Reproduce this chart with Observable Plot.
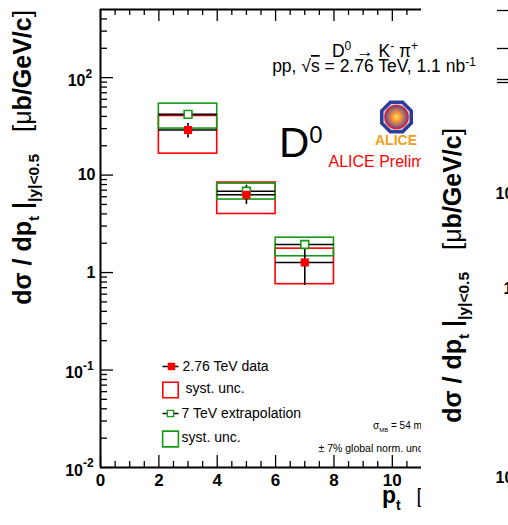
<!DOCTYPE html>
<html><head><meta charset="utf-8">
<script src="https://cdn.jsdelivr.net/npm/d3@7"></script>
<script src="https://cdn.jsdelivr.net/npm/@observablehq/plot@0.6"></script>
<style>
html,body{margin:0;padding:0;background:#fff;}
#wrap{position:relative;width:508px;height:525px;overflow:hidden;background:#fff;}
#wrap > svg{position:absolute;top:0;}
</style></head><body><div id="wrap"></div>
<script>
// ---- data ----
const ptLow    = [2, 4, 6];
const ptHigh   = [4, 6, 8];
const ptCenter = [3, 5, 7];
// 2.76 TeV data, stat and syst
const data276   = [29.0, 6.28, 1.27];
const stat276Lo = [24.0, 4.98, 0.74];
const stat276Hi = [33.8, 7.86, 1.80];
const syst276Lo = [16.6, 3.99, 0.76];
const syst276Hi = [40.4, 8.38, 1.76];
// 7 TeV extrapolation, stat and syst
const data7   = [42.0, 6.82, 1.94];
const stat7Lo = [39.5, 6.45, 1.85];
const stat7Hi = [44.5, 7.20, 2.03];
const syst7Lo = [30.0, 5.61, 1.47];
const syst7Hi = [54.1, 8.18, 2.28];
// axes
const xTicks = [0, 2, 4, 6, 8, 10];
const yTicks = [0.01, 0.1, 1, 10, 100];
const yTickBase = ["10", "10", "1", "10", "10"];
const yTickExp  = ["-2", "-1", "", "", "2"];
const legendLabels = ["2.76 TeV data", "syst. unc.", "7 TeV extrapolation", "syst. unc."];
// partially visible neighbouring panel
const rightLabels = ["10", "1", "10"];

const FONT = '"Liberation Sans", Arial, Helvetica, sans-serif';
const RED = "#ff0000", GREEN = "#169a16";
const W = 421, H = 525, ML = 100, MT = 9, MB = 58;
const FW = W - ML, FH = H - MT - MB;

const bins = ptCenter.map((x, i) => ({
  x, lo: ptLow[i], hi: ptHigh[i],
  a: data276[i], aSl: stat276Lo[i], aSh: stat276Hi[i], aYl: syst276Lo[i], aYh: syst276Hi[i],
  b: data7[i], bSl: stat7Lo[i], bSh: stat7Hi[i], bYl: syst7Lo[i], bYh: syst7Hi[i]
}));
const xMinor = d3.range(0.5, 11, 0.5).filter(v => v % 2 !== 0);
const yMinor = [];
for (let k = -2; k <= 2; k++) for (let m = 2; m <= 9; m++) { const v = m * 10 ** k; if (v < 500) yMinor.push(v); }
const yLab = yTicks.map((v, i) => ({v, base: yTickBase[i], exp: yTickExp[i]}));

const hline = {draw(ctx, size) { const r = Math.sqrt(size / Math.PI); ctx.moveTo(-r, 0); ctx.lineTo(r, 0); }};
const lg = (dx, dy, o) => ({frameAnchor: "top-left", dx: dx - ML, dy: dy - MT, ...o});

const main = Plot.plot({
  width: W, height: H,
  marginLeft: ML, marginRight: 0, marginTop: MT, marginBottom: MB,
  x: {domain: [0, 11], axis: null},
  y: {type: "log", domain: [0.01, 500], axis: null},
  style: {fontFamily: FONT, background: "white", color: "black"},
  marks: [
    // systematic boxes
    Plot.rect(bins, {x1: "lo", x2: "hi", y1: "aYl", y2: "aYh", fill: "none", stroke: RED, strokeWidth: 1.6}),
    Plot.rect(bins, {x1: "lo", x2: "hi", y1: "bYl", y2: "bYh", fill: "none", stroke: GREEN, strokeWidth: 1.6}),
    // x error bars and stat error bars
    Plot.ruleY(bins, {y: "a", x1: "lo", x2: "hi", stroke: "black", strokeWidth: 1.6}),
    Plot.ruleY(bins, {y: "b", x1: "lo", x2: "hi", stroke: "black", strokeWidth: 1.6}),
    Plot.ruleX(bins, {x: "x", y1: "aSl", y2: "aSh", stroke: "black", strokeWidth: 1.6}),
    Plot.ruleX(bins, {x: "x", y1: "bSl", y2: "bSh", stroke: "black", strokeWidth: 1.6}),
    // markers
    Plot.dot(bins, {x: "x", y: "b", symbol: "square", r: 4.4, fill: "white", stroke: GREEN, strokeWidth: 1.6}),
    Plot.dot(bins, {x: "x", y: "a", symbol: "square", r: 4.6, fill: RED, stroke: "none"}),
    // frame (left, bottom, top)
    Plot.ruleX([0], {stroke: "black", strokeWidth: 2}),
    Plot.ruleY([0.01], {stroke: "black", strokeWidth: 2}),
    Plot.ruleY([500], {stroke: "black", strokeWidth: 2}),
    // ticks (inside the frame, ROOT style)
    Plot.tickX(xTicks, {x: d => d, insetTop: FH - 12, stroke: "black", strokeWidth: 1.3}),
    Plot.tickX(xTicks, {x: d => d, insetBottom: FH - 12, stroke: "black", strokeWidth: 1.3}),
    Plot.tickX(xMinor, {x: d => d, insetTop: FH - 6, stroke: "black", strokeWidth: 1.3}),
    Plot.tickX(xMinor, {x: d => d, insetBottom: FH - 6, stroke: "black", strokeWidth: 1.3}),
    Plot.tickY(yTicks, {y: d => d, insetRight: FW - 13, stroke: "black", strokeWidth: 1.3}),
    Plot.tickY(yMinor, {y: d => d, insetRight: FW - 7, stroke: "black", strokeWidth: 1.3}),
    // tick labels
    Plot.text(xTicks, {x: d => d, frameAnchor: "bottom", text: d => String(d), dy: 13.5, lineAnchor: "middle",
      fontWeight: "bold", fontSize: 17, fill: "black"}),
    Plot.text(yLab.filter(d => d.exp === ""), {y: "v", frameAnchor: "left", text: "base", textAnchor: "end",
      dx: -5, lineAnchor: "middle", fontWeight: "bold", fontSize: 16, fill: "black"}),
    Plot.text(yLab.filter(d => d.exp.length === 1), {y: "v", frameAnchor: "left", text: "base", textAnchor: "end",
      dx: -15, dy: 3, lineAnchor: "middle", fontWeight: "bold", fontSize: 16, fill: "black"}),
    Plot.text(yLab.filter(d => d.exp.length === 1), {y: "v", frameAnchor: "left", text: "exp", textAnchor: "start",
      dx: -15, dy: -3, lineAnchor: "middle", fontWeight: "bold", fontSize: 12, fill: "black"}),
    Plot.text(yLab.filter(d => d.exp.length === 2), {y: "v", frameAnchor: "left", text: "base", textAnchor: "end",
      dx: -17.5, dy: 3, lineAnchor: "middle", fontWeight: "bold", fontSize: 16, fill: "black"}),
    Plot.text(yLab.filter(d => d.exp.length === 2), {y: "v", frameAnchor: "left", text: "exp", textAnchor: "start",
      dx: -17.5, dy: -4, lineAnchor: "middle", fontWeight: "bold", fontSize: 12, fill: "black"}),
    // legend
    Plot.dot([0], lg(170, 366, {symbol: hline, r: 8, stroke: "black", strokeWidth: 1.5})),
    Plot.dot([0], lg(171, 366, {symbol: "square", r: 4.2, fill: RED, stroke: "none"})),
    Plot.dot([0], lg(170, 389.5, {symbol: "square", r: 8.7, fill: "none", stroke: RED, strokeWidth: 1.6})),
    Plot.dot([0], lg(170, 413, {symbol: hline, r: 8, stroke: "black", strokeWidth: 1.5})),
    Plot.dot([0], lg(170, 413, {symbol: "square", r: 3.6, fill: "white", stroke: GREEN, strokeWidth: 1.3})),
    Plot.dot([0], lg(170, 438.5, {symbol: "square", r: 8.9, fill: "none", stroke: GREEN, strokeWidth: 1.6})),
    Plot.text([legendLabels[0]], lg(182, 366, {text: d => d, textAnchor: "start", lineAnchor: "middle", fontSize: 14, fill: "black"})),
    Plot.text([legendLabels[1]], lg(185, 388, {text: d => d, textAnchor: "start", lineAnchor: "middle", fontSize: 14, fill: "black"})),
    Plot.text([legendLabels[2]], lg(181, 413, {text: d => d, textAnchor: "start", lineAnchor: "middle", fontSize: 14, fill: "black"})),
    Plot.text([legendLabels[3]], lg(181, 437, {text: d => d, textAnchor: "start", lineAnchor: "middle", fontSize: 14, fill: "black"})),
    // annotations
    Plot.text(["ALICE Preliminary"], lg(328, 166.5, {text: d => d, textAnchor: "start", lineAnchor: "bottom", fontSize: 16, fill: RED})),
    Plot.text(["± 7% global norm. unc. not shown"], lg(318, 451, {text: d => d, textAnchor: "start", lineAnchor: "bottom", fontSize: 10.5, fill: "black"}))
  ]
});

// rich text helper (sub/superscripts as tspans)
function rich(parent, x, y, parts, opts = {}) {
  const t = parent.append("text").attr("x", x).attr("y", y)
    .attr("text-anchor", opts.anchor || "start").attr("font-family", FONT).attr("fill", opts.fill || "black");
  if (opts.transform) t.attr("transform", opts.transform);
  let cur = 0;
  for (const p of parts) {
    const s = p.shift || 0;
    const ts = t.append("tspan").text(p.t).attr("font-size", p.size).attr("font-weight", p.weight || "normal");
    if (s !== cur) ts.attr("dy", s - cur);
    if (p.dx) ts.attr("dx", p.dx);
    if (p.deco) ts.attr("text-decoration", p.deco);
    cur = s;
  }
  return t;
}
const yTitle = (sz) => [
  {t: "dσ / dp", size: sz, weight: "bold"},
  {t: "t", size: sz * 0.62, weight: "bold", shift: sz * 0.3},
  {t: " |", size: sz, weight: "bold", shift: 0},
  {t: "|y|<0.5", size: sz * 0.62, weight: "bold", shift: sz * 0.3},
  {t: "   [", size: sz * 1.05, weight: "normal", shift: 0},
  {t: "μ", size: sz, weight: "normal"},
  {t: "b/GeV/c", size: sz, weight: "bold"},
  {t: "]", size: sz * 1.05, weight: "normal"}
];

const ms = d3.select(main);
const ann = ms.append("g");
rich(ann, 0, 0, yTitle(25), {anchor: "end", transform: "translate(31,10) rotate(-90)"});
rich(ann, 382, 503, [
  {t: "p", size: 23, weight: "bold"},
  {t: "t", size: 14, weight: "bold", shift: 7}
]);
rich(ann, 416.5, 503, [{t: "[GeV/c]", size: 20}]);
rich(ann, 279, 157, [{t: "D", size: 42}, {t: "0", size: 24, shift: -14}]);
rich(ann, 373, 429, [
  {t: "σ", size: 10}, {t: "MB", size: 6, shift: 2.5}, {t: " = 54 mb", size: 10, shift: 0}
]);
// ALICE logo
const logo = ann.append("g").attr("transform", "translate(396.5,117)");
const defs = ms.append("defs");
const rg = defs.append("radialGradient").attr("id", "aliceG");
rg.append("stop").attr("offset", "0%").attr("stop-color", "#ffe04a");
rg.append("stop").attr("offset", "45%").attr("stop-color", "#f08a3c");
rg.append("stop").attr("offset", "100%").attr("stop-color", "#5a4c9e");
const oct = d3.range(8).map(i => { const a = Math.PI / 8 + i * Math.PI / 4; return [16 * Math.cos(a), 16 * Math.sin(a)]; });
logo.append("polygon").attr("points", oct.map(p => p.join(",")).join(" "))
  .attr("fill", "#c9d3f0").attr("stroke", "#2d3c96").attr("stroke-width", 3.5);
logo.append("circle").attr("r", 11.5).attr("fill", "url(#aliceG)").attr("stroke", "#e02020").attr("stroke-width", 1.6);
ann.append("text").attr("x", 396).attr("y", 145).attr("text-anchor", "middle").attr("font-family", FONT)
  .attr("font-weight", "bold").attr("font-size", 14).attr("fill", "#f5a01e").text("ALICE");

const wrap = document.getElementById("wrap");
main.style.left = "0px";
wrap.appendChild(main);

// ---- partially visible right-hand panel ----
const rightTicks = [10, 48, 79, 82];
const right = Plot.plot({
  width: 87, height: H, marginLeft: 0, marginRight: 0, marginTop: 0, marginBottom: 0,
  x: {type: "identity", axis: null}, y: {type: "identity", axis: null},
  style: {fontFamily: FONT, background: "white", color: "black"},
  marks: [
    Plot.ruleY(rightTicks, {y: d => d, x1: 76, x2: 87, stroke: "black", strokeWidth: 1.3}),
    Plot.text([rightLabels[0]], {frameAnchor: "top-left", dx: 74, dy: 193, text: d => d, textAnchor: "start", lineAnchor: "middle", fontWeight: "bold", fontSize: 16, fill: "black"}),
    Plot.text([rightLabels[1]], {frameAnchor: "top-left", dx: 82, dy: 288, text: d => d, textAnchor: "start", lineAnchor: "middle", fontWeight: "bold", fontSize: 16, fill: "black"}),
    Plot.text([rightLabels[2]], {frameAnchor: "top-left", dx: 74, dy: 477, text: d => d, textAnchor: "start", lineAnchor: "middle", fontWeight: "bold", fontSize: 16, fill: "black"})
  ]
});
rich(d3.select(right), 0, 0, yTitle(25), {anchor: "end", transform: "translate(40,128) rotate(-90)"});
right.style.left = "421px";
wrap.appendChild(right);

// ---- title text (drawn over both panels) ----
const over = d3.create("svg").attr("width", 508).attr("height", 80).style("left", "0px").style("pointer-events", "none");
rich(over, 375, 56.7, [
  {t: "D", size: 17.5}, {t: "0", size: 12, shift: -6.5}, {t: " → K", size: 17.5, shift: 0},
  {t: "-", size: 12, shift: -6.5}, {t: " π", size: 17.5, shift: 0}, {t: "+", size: 12, shift: -6.5}
], {anchor: "middle"});
rich(over, 374, 72, [
  {t: "pp, √", size: 17.5}, {t: "s", size: 17.5, deco: "overline"}, {t: " = 2.76 TeV, 1.1 nb", size: 17.5},
  {t: "-1", size: 12, shift: -6.5}
], {anchor: "middle"});
wrap.appendChild(over.node());
</script></body></html>
